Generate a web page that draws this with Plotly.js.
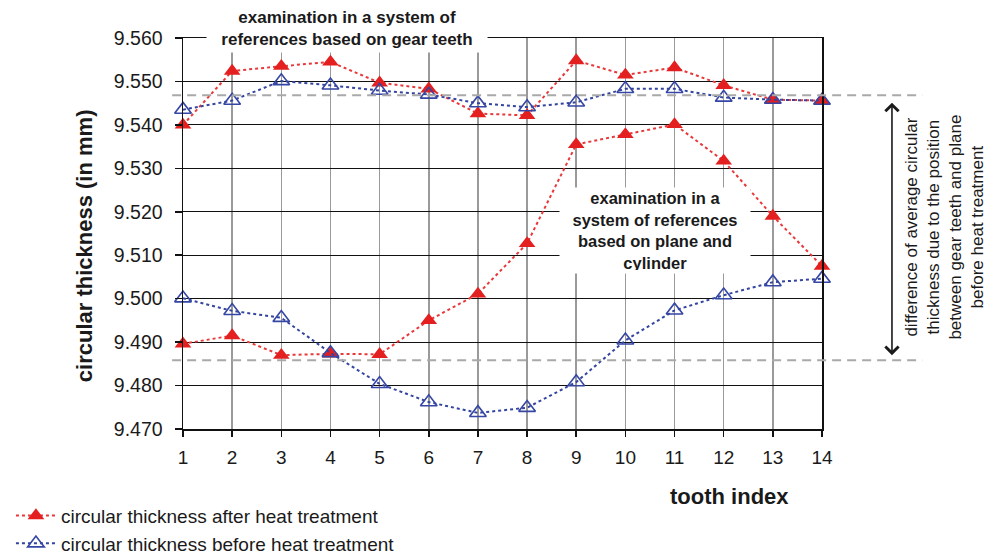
<!DOCTYPE html>
<html>
<head>
<meta charset="utf-8">
<script src="https://cdn.plot.ly/plotly-3.0.1.min.js"></script>
<style>
  html, body { margin: 0; padding: 0; background: #ffffff; }
  #chart { width: 995px; height: 555px; }
</style>
</head>
<body>
<div id="chart"></div>
<script>
// ---- data ----
var toothIndex = [1, 2, 3, 4, 5, 6, 7, 8, 9, 10, 11, 12, 13, 14];

// examination in a system of references based on gear teeth
var afterGearTeeth  = [9.5400, 9.5524, 9.5535, 9.5545, 9.5497, 9.5483, 9.5426, 9.5422, 9.5548, 9.5515, 9.5532, 9.5491, 9.5458, 9.5456];
var beforeGearTeeth = [9.5435, 9.5456, 9.5501, 9.5491, 9.5479, 9.5470, 9.5450, 9.5441, 9.5452, 9.5483, 9.5483, 9.5463, 9.5458, 9.5456];

// examination in a system of references based on plane and cylinder
var afterPlaneCyl   = [9.4896, 9.4915, 9.4870, 9.4873, 9.4872, 9.4950, 9.5011, 9.5127, 9.5355, 9.5378, 9.5401, 9.5317, 9.5190, 9.5075];
var beforePlaneCyl  = [9.5001, 9.4972, 9.4956, 9.4875, 9.4804, 9.4762, 9.4737, 9.4749, 9.4808, 9.4904, 9.4973, 9.5008, 9.5038, 9.5046];

// average levels (dashed reference lines)
var averageLevels = [9.5468, 9.4858];

var yTickValues = [9.470, 9.480, 9.490, 9.500, 9.510, 9.520, 9.530, 9.540, 9.550, 9.560];
var seriesNames = ['circular thickness after heat treatment', 'circular thickness before heat treatment'];

// ---- styling ----
var FONT = 'Arial, "Liberation Sans", Helvetica, sans-serif';
var RED = '#e41f1f';
var RED_LINE = '#e8383a';
var BLUE = '#3546a4';
var BLUE_LINE = '#3445a0';

function redTrace(y, show) {
  return {
    x: toothIndex, y: y, type: 'scatter', mode: 'lines+markers',
    name: seriesNames[0], legendgroup: 'after', showlegend: show,
    cliponaxis: false,
    line: {color: RED_LINE, width: 2, dash: 'dot'},
    marker: {symbol: 'triangle-up', size: 14.5, color: RED, line: {width: 0}}
  };
}
function blueTrace(y, show) {
  return {
    x: toothIndex, y: y, type: 'scatter', mode: 'lines+markers',
    name: seriesNames[1], legendgroup: 'before', showlegend: show,
    cliponaxis: false,
    line: {color: BLUE_LINE, width: 2, dash: 'dot'},
    marker: {symbol: 'triangle-up-open', size: 14.5, color: BLUE, line: {width: 1.6, color: BLUE}}
  };
}

var data = [
  redTrace(afterGearTeeth, true),
  redTrace(afterPlaneCyl, false),
  blueTrace(beforeGearTeeth, true),
  blueTrace(beforePlaneCyl, false)
];

var shapes = averageLevels.map(function (v) {
  return {
    type: 'line', xref: 'paper', yref: 'y',
    x0: -0.017, x1: 1.157, y0: v, y1: v,
    line: {color: '#a9a9a9', width: 2, dash: '9px,6px'},
    layer: 'above'
  };
});

var annotations = [
  {
    text: '<b>examination in a system of<br>references based on gear teeth</b>',
    xref: 'paper', yref: 'paper', x: 0.2567, y: 1.0233,
    xanchor: 'center', yanchor: 'middle', showarrow: false,
    font: {family: FONT, size: 17, color: '#1a1a1a'},
    bgcolor: '#ffffff', width: 274, height: 41, borderpad: 3
  },
  {
    text: '<b>examination in a<br>system of references<br>based on plane and<br>cylinder</b>',
    xref: 'paper', yref: 'paper', x: 0.7387, y: 0.5068,
    xanchor: 'center', yanchor: 'middle', showarrow: false,
    font: {family: FONT, size: 16.5, color: '#1a1a1a'},
    bgcolor: '#ffffff', width: 184, height: 79, borderpad: 3
  },
  {
    text: '',
    xref: 'paper', yref: 'y', x: 1.1095, y: averageLevels[1] + 0.0012,
    ax: 0, ay: -254, showarrow: true,
    arrowhead: 4, startarrowhead: 4, arrowside: 'end+start',
    arrowsize: 1.6, startarrowsize: 1.6, arrowwidth: 1.6, arrowcolor: '#1a1a1a',
    standoff: 0, startstandoff: 0
  },
  {
    text: 'difference of average circular<br>thickness due to the position<br>between gear teeth and plane<br>before heat treatment',
    xref: 'paper', yref: 'paper', x: 1.1915, y: 0.516,
    xanchor: 'center', yanchor: 'middle', showarrow: false, textangle: -90,
    font: {family: FONT, size: 17, color: '#1a1a1a'}
  },
  {
    text: '<b>circular thickness (in mm)</b>',
    xref: 'paper', yref: 'paper', x: -0.155, y: 0.47,
    xanchor: 'center', yanchor: 'middle', showarrow: false, textangle: -90,
    font: {family: FONT, size: 22, color: '#1a1a1a'}
  },
  {
    text: '<b>tooth index</b>',
    xref: 'paper', yref: 'paper', x: 0.8552, y: -0.172,
    xanchor: 'center', yanchor: 'middle', showarrow: false,
    font: {family: FONT, size: 22, color: '#1a1a1a'}
  }
];

var layout = {
  width: 995, height: 555,
  margin: {l: 183, r: 173, t: 38, b: 126, pad: 0, autoexpand: false},
  paper_bgcolor: '#ffffff', plot_bgcolor: '#ffffff',
  font: {family: FONT, color: '#1a1a1a'},
  showlegend: true,
  legend: {
    xref: 'container', yref: 'container', x: 0.011, y: 0.105,
    xanchor: 'left', yanchor: 'top',
    font: {family: FONT, size: 19, color: '#1a1a1a'},
    bgcolor: 'rgba(0,0,0,0)', tracegroupgap: 0, itemwidth: 40,
    traceorder: 'grouped'
  },
  xaxis: {
    range: [1, 14], tickvals: toothIndex, ticktext: toothIndex.map(String),
    showgrid: true, gridcolor: '#9a9a9a', gridwidth: 1.5,
    showline: true, linecolor: '#111111', linewidth: 1.5, mirror: true,
    ticks: 'outside', ticklen: 6, tickwidth: 1.5, tickcolor: '#111111',
    tickfont: {family: FONT, size: 19, color: '#1a1a1a'},
    ticklabelstandoff: 5,
    zeroline: false, fixedrange: true
  },
  yaxis: {
    range: [9.470, 9.560], tickvals: yTickValues,
    ticktext: yTickValues.map(function (v) { return v.toFixed(3); }),
    showgrid: true, gridcolor: '#111111', gridwidth: 1.2,
    showline: true, linecolor: '#111111', linewidth: 1.5, mirror: true,
    ticks: 'outside', ticklen: 7, tickwidth: 1.5, tickcolor: '#111111',
    tickfont: {family: FONT, size: 19.5, color: '#1a1a1a'},
    ticklabelstandoff: 8,
    zeroline: false, fixedrange: true
  },
  shapes: shapes,
  annotations: annotations
};

Plotly.newPlot('chart', data, layout, {displayModeBar: false, staticPlot: true});
</script>
</body>
</html>
